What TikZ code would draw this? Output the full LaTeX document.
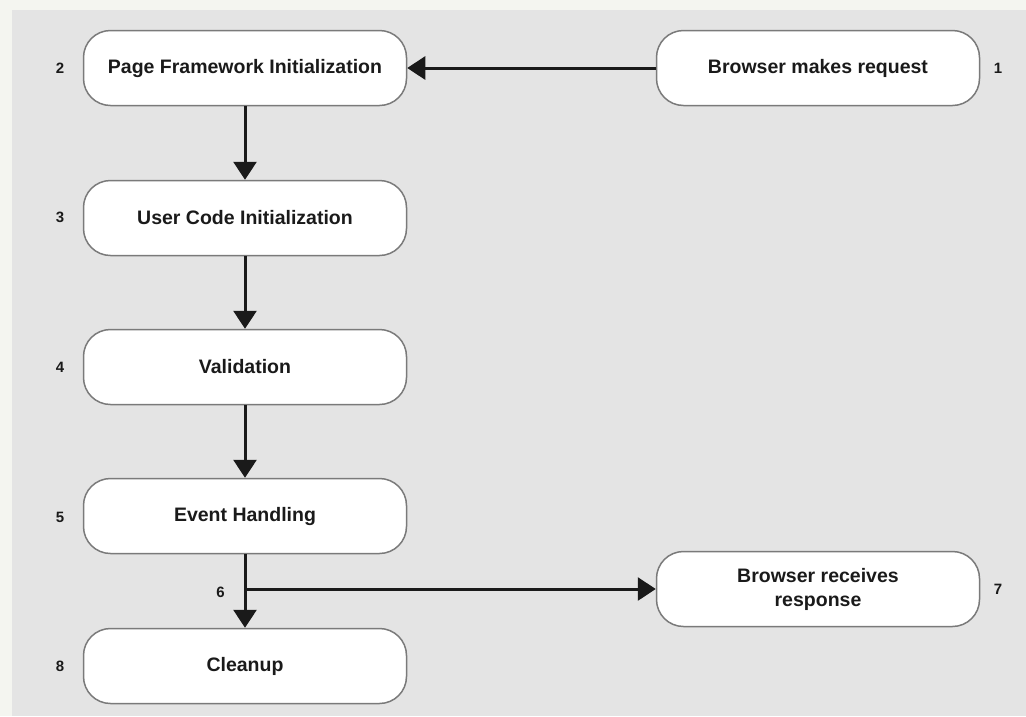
\documentclass[tikz,border=0pt]{standalone}
\usepackage{fontspec}
\setmainfont{Liberation Sans}
\usetikzlibrary{arrows.meta}
\definecolor{pagebg}{HTML}{F4F5F0}
\definecolor{panelbg}{HTML}{E4E4E4}
\definecolor{boxline}{HTML}{7A7A7A}
\definecolor{ink}{HTML}{1A1A1A}
\tikzset{
  stage/.style={draw=boxline, line width=1.5pt, fill=white, rounded corners=27pt,
    minimum width=323pt, minimum height=75pt, align=center, text=ink,
    font=\fontsize{19.5}{24}\selectfont\bfseries, inner sep=0pt},
  stepnum/.style={text=ink, font=\fontsize{15}{17}\selectfont\bfseries, inner sep=0pt},
  flow/.style={draw=ink, line width=3pt, -{Triangle[length=18pt,width=23pt]}}
}
\begin{document}
\begin{tikzpicture}[x=1pt,y=-1pt]
  % page and grey panel
  \fill[pagebg] (0,0) rectangle (1026,716);
  \fill[panelbg] (12,10) rectangle (1026,716);
  \useasboundingbox (0,0) rectangle (1026,716);

  % pipeline stages
  \node[stage] (init)  at (245,68)  {Page Framework Initialization};
  \node[stage] (user)  at (245,218) {User Code Initialization};
  \node[stage] (valid) at (245,367) {Validation};
  \node[stage] (event) at (245,516) {Event Handling};
  \node[stage] (clean) at (245,666) {Cleanup};
  \node[stage] (req)   at (818,68)  {Browser makes request};
  \node[stage] (resp)  at (818,589) {Browser receives\\response};

  % step numbers
  \node[stepnum] (n1) at (998,68)  {1};
  \node[stepnum] (n2) at (60,68)   {2};
  \node[stepnum] (n3) at (60,217)  {3};
  \node[stepnum] (n4) at (60,367)  {4};
  \node[stepnum] (n5) at (60,517)  {5};
  \node[stepnum] (n7) at (998,589) {7};
  \node[stepnum] (n8) at (60,666)  {8};

  % connectors
  \draw[flow] (req.west) -- (init.east);
  \draw[flow] (init.south) -- (user.north);
  \draw[flow] (user.south) -- (valid.north);
  \draw[flow] (valid.south) -- (event.north);
  \draw[flow] (event.south) -- (clean.north);
  \coordinate (split) at (event.south |- resp.west);
  \draw[flow] (split) -- (resp.west);
  \node[stepnum, anchor=east] (n6) at ([xshift=-20pt,yshift=-3pt]split) {6};
\end{tikzpicture}
\end{document}
